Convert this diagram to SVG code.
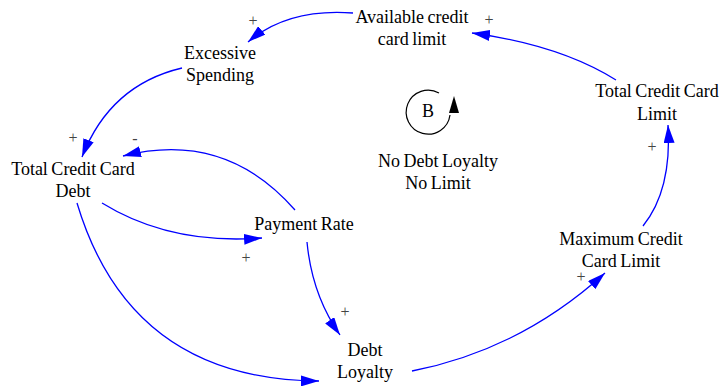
<svg xmlns="http://www.w3.org/2000/svg" width="723" height="389" viewBox="0 0 723 389">
<defs>
<style>
.t{font-size:18px;fill:#000;text-anchor:middle;word-spacing:-1px}
.s{font-size:16px;fill:#444;text-anchor:middle}
.e{fill:none;stroke:#0000ff;stroke-width:1.3}
</style>
<marker id="ah" markerUnits="userSpaceOnUse" markerWidth="19" markerHeight="11" refX="18" refY="5.5" orient="auto" viewBox="0 0 19 11">
<path d="M0,0 L18,5.5 L0,11 z" fill="#0000ff"/>
</marker>
</defs>
<rect width="723" height="389" fill="#fff"/>
<g font-family="'Liberation Serif', 'Times New Roman', Times, serif">
<g id="connectors">
<path class="e" marker-end="url(#ah)" d="M353,13 Q288,8 248,42"/>
<path class="e" marker-end="url(#ah)" d="M182,68 Q110,85 82,157"/>
<path class="e" marker-end="url(#ah)" d="M295,210 Q225,130 123,156"/>
<path class="e" marker-end="url(#ah)" d="M102,203 Q170,245 262,238"/>
<path class="e" marker-end="url(#ah)" d="M307,242 Q312,295 340,335"/>
<path class="e" marker-end="url(#ah)" d="M77,203 Q130,380 319,381"/>
<path class="e" marker-end="url(#ah)" d="M412,371 Q520,350 605,273"/>
<path class="e" marker-end="url(#ah)" d="M643,226 Q672,190 668,125"/>
<path class="e" marker-end="url(#ah)" d="M616,80 Q560,45 472,33"/>
<text class="s" x="253" y="26">+</text>
<text class="s" x="73" y="143">+</text>
<text class="s" x="135" y="144">-</text>
<text class="s" x="246" y="263">+</text>
<text class="s" x="345" y="317">+</text>
<text class="s" x="581" y="282">+</text>
<text class="s" x="652" y="152">+</text>
<text class="s" x="489" y="25">+</text>
</g>
<g id="available-credit-card-limit">
<text class="t" x="412" y="23">Available credit</text>
<text class="t" x="412" y="45">card limit</text>
</g>
<g id="excessive-spending">
<text class="t" x="220" y="59">Excessive</text>
<text class="t" x="220" y="81">Spending</text>
</g>
<g id="total-credit-card-debt">
<text class="t" x="73" y="175">Total Credit Card</text>
<text class="t" x="73" y="197">Debt</text>
</g>
<g id="payment-rate">
<text class="t" x="304" y="230">Payment Rate</text>
</g>
<g id="debt-loyalty">
<text class="t" x="365" y="356">Debt</text>
<text class="t" x="365" y="378">Loyalty</text>
</g>
<g id="maximum-credit-card-limit">
<text class="t" x="621" y="245">Maximum Credit</text>
<text class="t" x="621" y="267">Card Limit</text>
</g>
<g id="total-credit-card-limit">
<text class="t" x="657" y="97">Total Credit Card</text>
<text class="t" x="657" y="120">Limit</text>
</g>
<g id="loop-b">
<path d="M439,93 A22,22 0 1 0 450,115" fill="none" stroke="#000" stroke-width="1.2"/>
<path d="M454,96 L459,113 L449,113 z" fill="#000"/>
<text class="t" x="428" y="117">B</text>
<text class="t" x="438" y="167">No Debt Loyalty</text>
<text class="t" x="438" y="189">No Limit</text>
</g>
</g>
</svg>
